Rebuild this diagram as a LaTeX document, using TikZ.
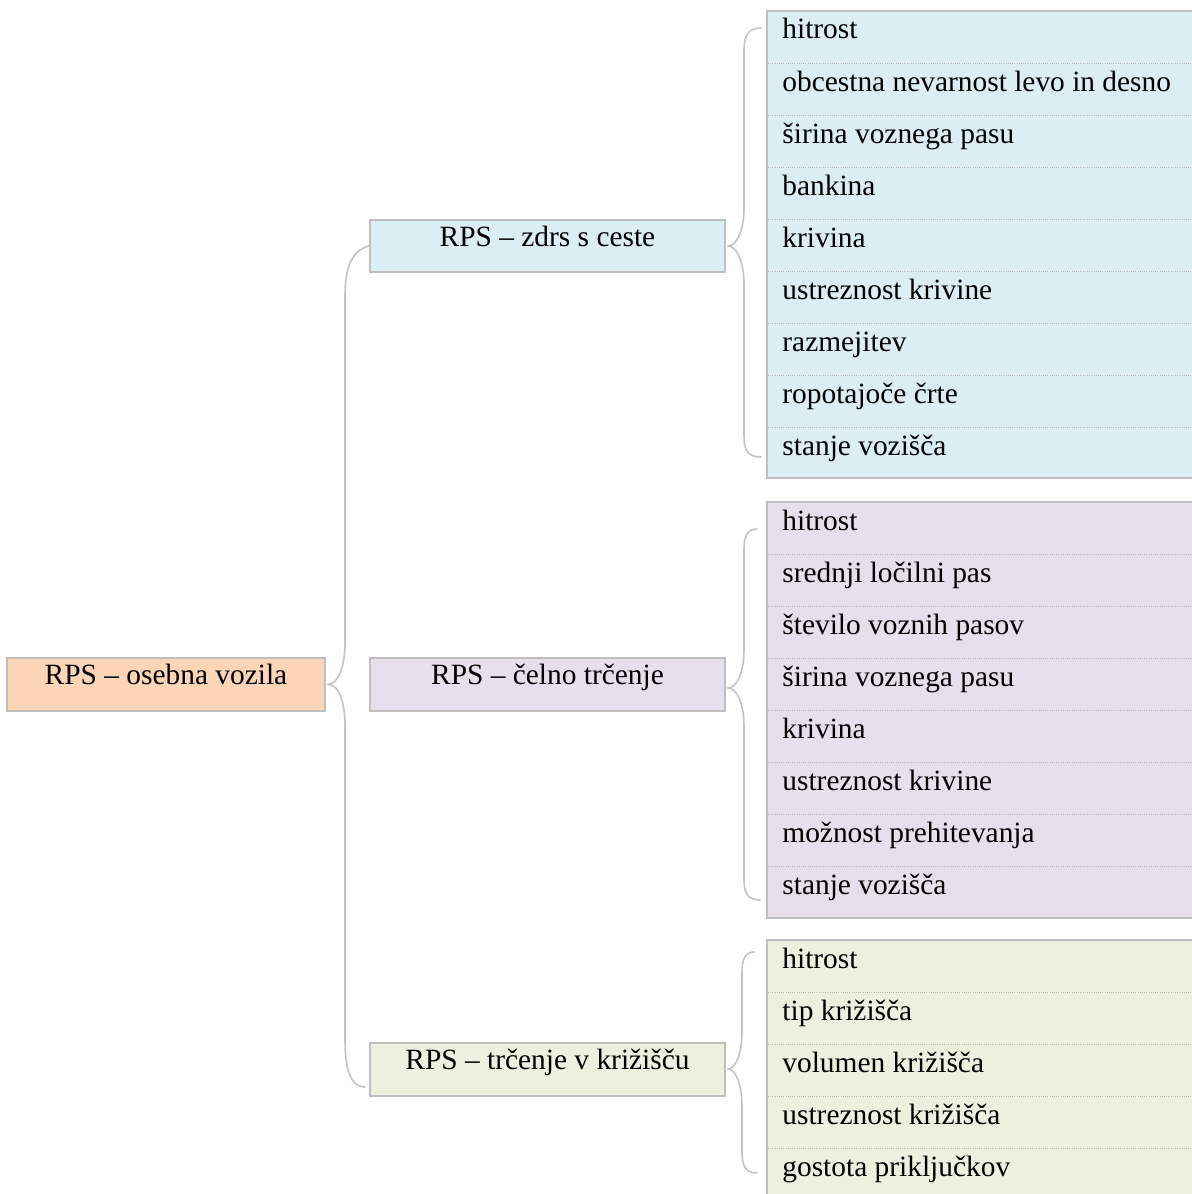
\documentclass[tikz,border=0pt]{standalone}
\usepackage{fontspec}
\setmainfont{Liberation Serif}
\usetikzlibrary{calc}
\definecolor{bord}{HTML}{BFBFBF}
\definecolor{brcol}{HTML}{C3C3C3}
\definecolor{sepcol}{HTML}{B8B8B8}
\definecolor{peach}{HTML}{FBD5B5}
\definecolor{lblue}{HTML}{DAEEF3}
\definecolor{lilac}{HTML}{E5E0EC}
\definecolor{lgreen}{HTML}{EBF1DE}
\tikzset{
  txt/.style={font=\fontsize{14.7}{17}\selectfont},
  box/.style={draw=bord, line width=1pt, rectangle, inner sep=0pt, txt,
              text height=7pt, text depth=7pt, align=center},
  listbox/.style={draw=bord, line width=1pt, rectangle, inner sep=0pt},
  item/.style={txt, anchor=base west, inner sep=0pt},
  sep/.style={sepcol, line width=0.5pt, dash pattern=on 0.5pt off 0.6pt},
  brc/.style={brcol, line width=0.8pt, line cap=round},
}
\begin{document}
\begin{tikzpicture}[x=0.5pt,y=-0.5pt]
\clip (0,0) rectangle (1192,1194);
% root and middle nodes
\node[box, fill=peach, minimum width=159pt, minimum height=26.5pt] (root) at (166,684.5) {RPS – osebna vozila};
\node[box, fill=lblue, minimum width=177.5pt, minimum height=26pt] (m1) at (547.5,246) {RPS – zdrs s ceste};
\node[box, fill=lilac, minimum width=177.5pt, minimum height=26.5pt] (m2) at (547.5,684.5) {RPS – čelno trčenje};
\node[box, fill=lgreen, minimum width=177.5pt, minimum height=26.5pt] (m3) at (547.5,1069.5) {RPS – trčenje v križišču};
% list boxes
\node[listbox, fill=lblue, minimum width=216.5pt, minimum height=233.5pt] (L1) at (983.5,244.5) {};
\node[listbox, fill=lilac, minimum width=216.5pt, minimum height=208pt] (L2) at (983.5,710) {};
\node[listbox, fill=lgreen, minimum width=216.5pt, minimum height=130pt] (L3) at (983.5,1070) {};
% separators
\foreach \i in {1,...,8} \draw[sep] (768,{11+52*\i}) -- (1192,{11+52*\i});
\foreach \i in {1,...,7} \draw[sep] (768,{502+52*\i}) -- (1192,{502+52*\i});
\foreach \i in {1,...,4} \draw[sep] (768,{940+52*\i}) -- (1192,{940+52*\i});
% items
\foreach \t [count=\i] in {hitrost, obcestna nevarnost levo in desno, širina voznega pasu, bankina, krivina, ustreznost krivine, razmejitev, ropotajoče črte, stanje vozišča}
  \node[item] (a\i) at (782,{11+52*(\i-1)+28}) {\t};
\foreach \t [count=\i] in {hitrost, srednji ločilni pas, število voznih pasov, širina voznega pasu, krivina, ustreznost krivine, možnost prehitevanja, stanje vozišča}
  \node[item] (b\i) at (782,{502+52*(\i-1)+28}) {\t};
\foreach \t [count=\i] in {hitrost, tip križišča, volumen križišča, ustreznost križišča, gostota priključkov}
  \node[item] (c\i) at (782,{940+52*(\i-1)+28}) {\t};
% braces
% root -> middle nodes
\draw[brc] ($(root.east)+(2,0)$) .. controls (337,684) and (345,670) .. (345,642) -- (345,295) .. controls (345,268) and (352,250) .. (m1.west);
\draw[brc] ($(root.east)+(2,0)$) .. controls (337,684) and (345,698) .. (345,726) -- (345,1040) .. controls (345,1068) and (350,1087) .. (365,1087);
% m1 -> L1
\draw[brc] ($(m1.east)+(2,0)$) .. controls (736,246) and (744,232) .. (744,208) -- (744,50) .. controls (744,36) and (748,28) .. (761,28);
\draw[brc] ($(m1.east)+(2,0)$) .. controls (736,246) and (744,260) .. (744,284) -- (744,437) .. controls (744,450) and (748,457) .. (761,457);
% m2 -> L2
\draw[brc] ($(m2.east)+(2,3.5)$) .. controls (736,688) and (744,674) .. (744,650) -- (744,549) .. controls (744,537) and (747,529) .. (757,529);
\draw[brc] ($(m2.east)+(2,3.5)$) .. controls (736,688) and (744,702) .. (744,726) -- (744,880) .. controls (744,893) and (748,900) .. (760,900);
% m3 -> L3
\draw[brc] ($(m3.east)+(2,-0.5)$) .. controls (735,1069) and (742,1055) .. (742,1031) -- (742,972) .. controls (742,960) and (745,952) .. (754,952);
\draw[brc] ($(m3.east)+(2,-0.5)$) .. controls (735,1069) and (742,1083) .. (742,1107) -- (742,1153) .. controls (742,1166) and (746,1173) .. (757,1173);
\end{tikzpicture}
\end{document}
